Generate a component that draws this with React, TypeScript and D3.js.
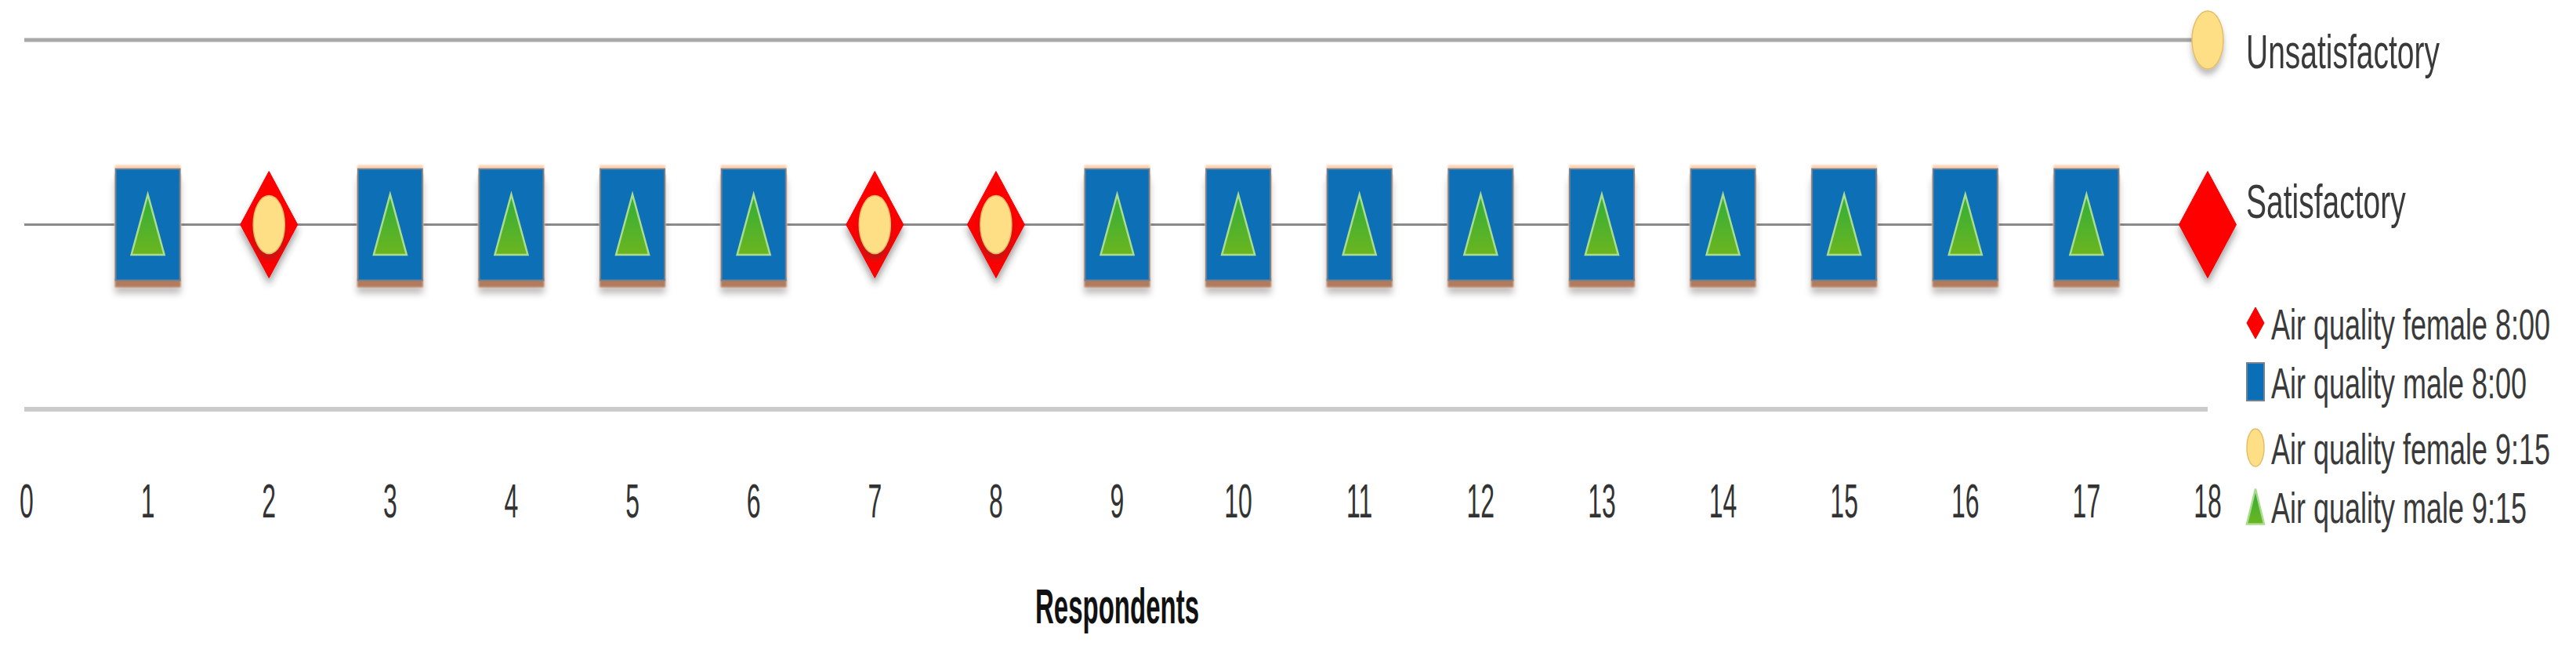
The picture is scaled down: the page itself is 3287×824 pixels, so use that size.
import React from "react";
import * as d3 from "d3";

// respondents on the x axis
const tickLabels = [0, 1, 2, 3, 4, 5, 6, 7, 8, 9, 10, 11, 12, 13, 14, 15, 16, 17, 18];
// answer levels on the y axis (0 = empty bottom line)
const levelValues = [0, 1, 2];
const levelNames = ["", "Satisfactory", "Unsatisfactory"];

// series: respondent -> level
const female800Resp = [2, 7, 8, 18];
const female800Vals = [1, 1, 1, 1];
const male800Resp = [1, 3, 4, 5, 6, 9, 10, 11, 12, 13, 14, 15, 16, 17];
const male800Vals = [1, 1, 1, 1, 1, 1, 1, 1, 1, 1, 1, 1, 1, 1];
const female915Resp = [2, 7, 8, 18];
const female915Vals = [1, 1, 1, 2];
const male915Resp = [1, 3, 4, 5, 6, 9, 10, 11, 12, 13, 14, 15, 16, 17];
const male915Vals = [1, 1, 1, 1, 1, 1, 1, 1, 1, 1, 1, 1, 1, 1];

const seriesNames = [
  "Air quality female 8:00",
  "Air quality male 8:00",
  "Air quality female 9:15",
  "Air quality male 9:15",
];

const FONT = "'Liberation Sans', Arial, sans-serif";

// stretched marker outlines around (cx, cy)
function shapePath(kind: string, cx: number, cy: number, w: number, h: number) {
  const p = d3.path();
  const a = w / 2, b = h / 2;
  if (kind === "diamond") {
    p.moveTo(cx, cy - b); p.lineTo(cx + a, cy); p.lineTo(cx, cy + b); p.lineTo(cx - a, cy);
  } else if (kind === "square") {
    p.rect(cx - a, cy - b, w, h);
  } else {
    p.moveTo(cx, cy - b); p.lineTo(cx + a, cy + b); p.lineTo(cx - a, cy + b);
  }
  p.closePath();
  return p.toString();
}

function Marker({ kind, cx, cy, w, h, filter }: any) {
  if (kind === "circle") {
    return (
      <ellipse cx={cx} cy={cy} rx={w / 2} ry={h / 2} fill="#ffdf85"
        stroke="#e3bd6a" strokeWidth={1.5} filter={filter} />
    );
  }
  if (kind === "square") {
    return <path d={shapePath(kind, cx, cy, w, h)} fill="#0a6fb7" stroke="#6f8192" strokeWidth={2} filter={filter} />;
  }
  if (kind === "diamond") {
    return <path d={shapePath(kind, cx, cy, w, h)} fill="#ff0000" stroke="#f00000" strokeWidth={1} filter={filter} />;
  }
  return (
    <path d={shapePath(kind, cx, cy, w, h)} fill="url(#triFill)" stroke="#a9dc8e"
      strokeWidth={2.5} strokeLinejoin="miter" filter={filter} />
  );
}

function TallText({ x, y, size, sy, anchor = "start", weight = "normal", fill = "#3a3a3a", children }: any) {
  return (
    <text transform={`translate(${x},${y}) scale(1,${sy})`} fontSize={size} fontFamily={FONT}
      fontWeight={weight} textAnchor={anchor} fill={fill}>
      {children}
    </text>
  );
}

export default function App() {
  const width = 3287;
  const height = 824;

  const x = d3.scaleLinear().domain([0, 18]).range([34, 2817]);
  const y = d3.scaleLinear().domain([0, 2]).range([522, 51]);

  const lineStyles = [
    { stroke: "#cbcbcb", w: 6 },
    { stroke: "#8a8a8a", w: 3 },
    { stroke: "#a8a8a8", w: 5 },
  ];
  const labelOffsets = [0, -9, 36];

  const zip = (r: number[], v: number[]) => r.map((d, i) => ({ r: d, v: v[i] }));
  const series = [
    { kind: "diamond", data: zip(female800Resp, female800Vals), w: 73, h: 136, filter: "url(#shadow)" },
    { kind: "square", data: zip(male800Resp, male800Vals), w: 82, h: 142, filter: "url(#sqShadow)" },
    { kind: "circle", data: zip(female915Resp, female915Vals), w: 40, h: 74, filter: "url(#softShadow)" },
    { kind: "triangle", data: zip(male915Resp, male915Vals), w: 42, h: 77, filter: undefined },
  ];

  const legendBase = [433, 508, 592, 667];
  const legendSizes = [
    { w: 22, h: 40 },
    { w: 22, h: 48 },
    { w: 22, h: 48 },
    { w: 22, h: 45 },
  ];

  return (
    <svg width={width} height={height} style={{ position: "absolute", left: 0, top: 0, background: "#fff" }}>
      <defs>
        <linearGradient id="triFill" x1="0" y1="0" x2="0" y2="1">
          <stop offset="0%" stopColor="#2fae3a" />
          <stop offset="100%" stopColor="#6cb51f" />
        </linearGradient>
        <filter id="shadow" x="-50%" y="-30%" width="200%" height="170%">
          <feDropShadow dx="0" dy="8" stdDeviation="4" floodColor="#333" floodOpacity="0.45" />
        </filter>
        <filter id="softShadow" x="-50%" y="-30%" width="200%" height="170%">
          <feDropShadow dx="0" dy="7" stdDeviation="3.5" floodColor="#444" floodOpacity="0.35" />
        </filter>
        <filter id="sqShadow" x="-30%" y="-30%" width="160%" height="170%">
          <feGaussianBlur in="SourceAlpha" stdDeviation="1.2" result="b" />
          <feOffset in="b" dy="-4" result="up" />
          <feFlood floodColor="#fbd2b2" result="pc" />
          <feComposite in="pc" in2="up" operator="in" result="peach" />
          <feOffset in="b" dy="8" result="dn" />
          <feFlood floodColor="#b27c5c" result="bc" />
          <feComposite in="bc" in2="dn" operator="in" result="brown" />
          <feGaussianBlur in="SourceAlpha" stdDeviation="4" result="b2" />
          <feOffset in="b2" dy="16" result="dn2" />
          <feFlood floodColor="#000" floodOpacity="0.25" result="gc" />
          <feComposite in="gc" in2="dn2" operator="in" result="gray" />
          <feMerge>
            <feMergeNode in="gray" />
            <feMergeNode in="brown" />
            <feMergeNode in="peach" />
            <feMergeNode in="SourceGraphic" />
          </feMerge>
        </filter>
      </defs>

      {/* horizontal level lines */}
      {levelValues.map((lv, i) => (
        <line key={lv} x1={x(0) - 3} x2={x(18)} y1={y(lv)} y2={y(lv)}
          stroke={lineStyles[i].stroke} strokeWidth={lineStyles[i].w} />
      ))}

      {/* level names */}
      {levelValues.map((lv, i) =>
        levelNames[i] ? (
          <TallText key={lv} x={2866} y={y(lv) + labelOffsets[i]} size={39} sy={1.58}>
            {levelNames[i]}
          </TallText>
        ) : null
      )}

      {/* markers */}
      {series.map((s, si) => (
        <g key={si}>
          {s.data.map((d) => (
            <Marker key={d.r} kind={s.kind} cx={x(d.r)} cy={y(d.v)} w={s.w} h={s.h} filter={s.filter} />
          ))}
        </g>
      ))}

      {/* x tick labels */}
      {tickLabels.map((t) => (
        <TallText key={t} x={x(t)} y={660} size={32} sy={1.9} anchor="middle" fill="#333">
          {t}
        </TallText>
      ))}

      <TallText x={(x(0) + x(18)) / 2} y={795} size={33} sy={1.9} anchor="middle" weight="bold" fill="#111">
        Respondents
      </TallText>

      {/* legend */}
      {seriesNames.map((name, i) => (
        <g key={name}>
          <Marker kind={series[i].kind} cx={2878} cy={legendBase[i] - 21}
            w={legendSizes[i].w} h={legendSizes[i].h} />
          <TallText x={2898} y={legendBase[i]} size={36} sy={1.55}>
            {name}
          </TallText>
        </g>
      ))}
    </svg>
  );
}
